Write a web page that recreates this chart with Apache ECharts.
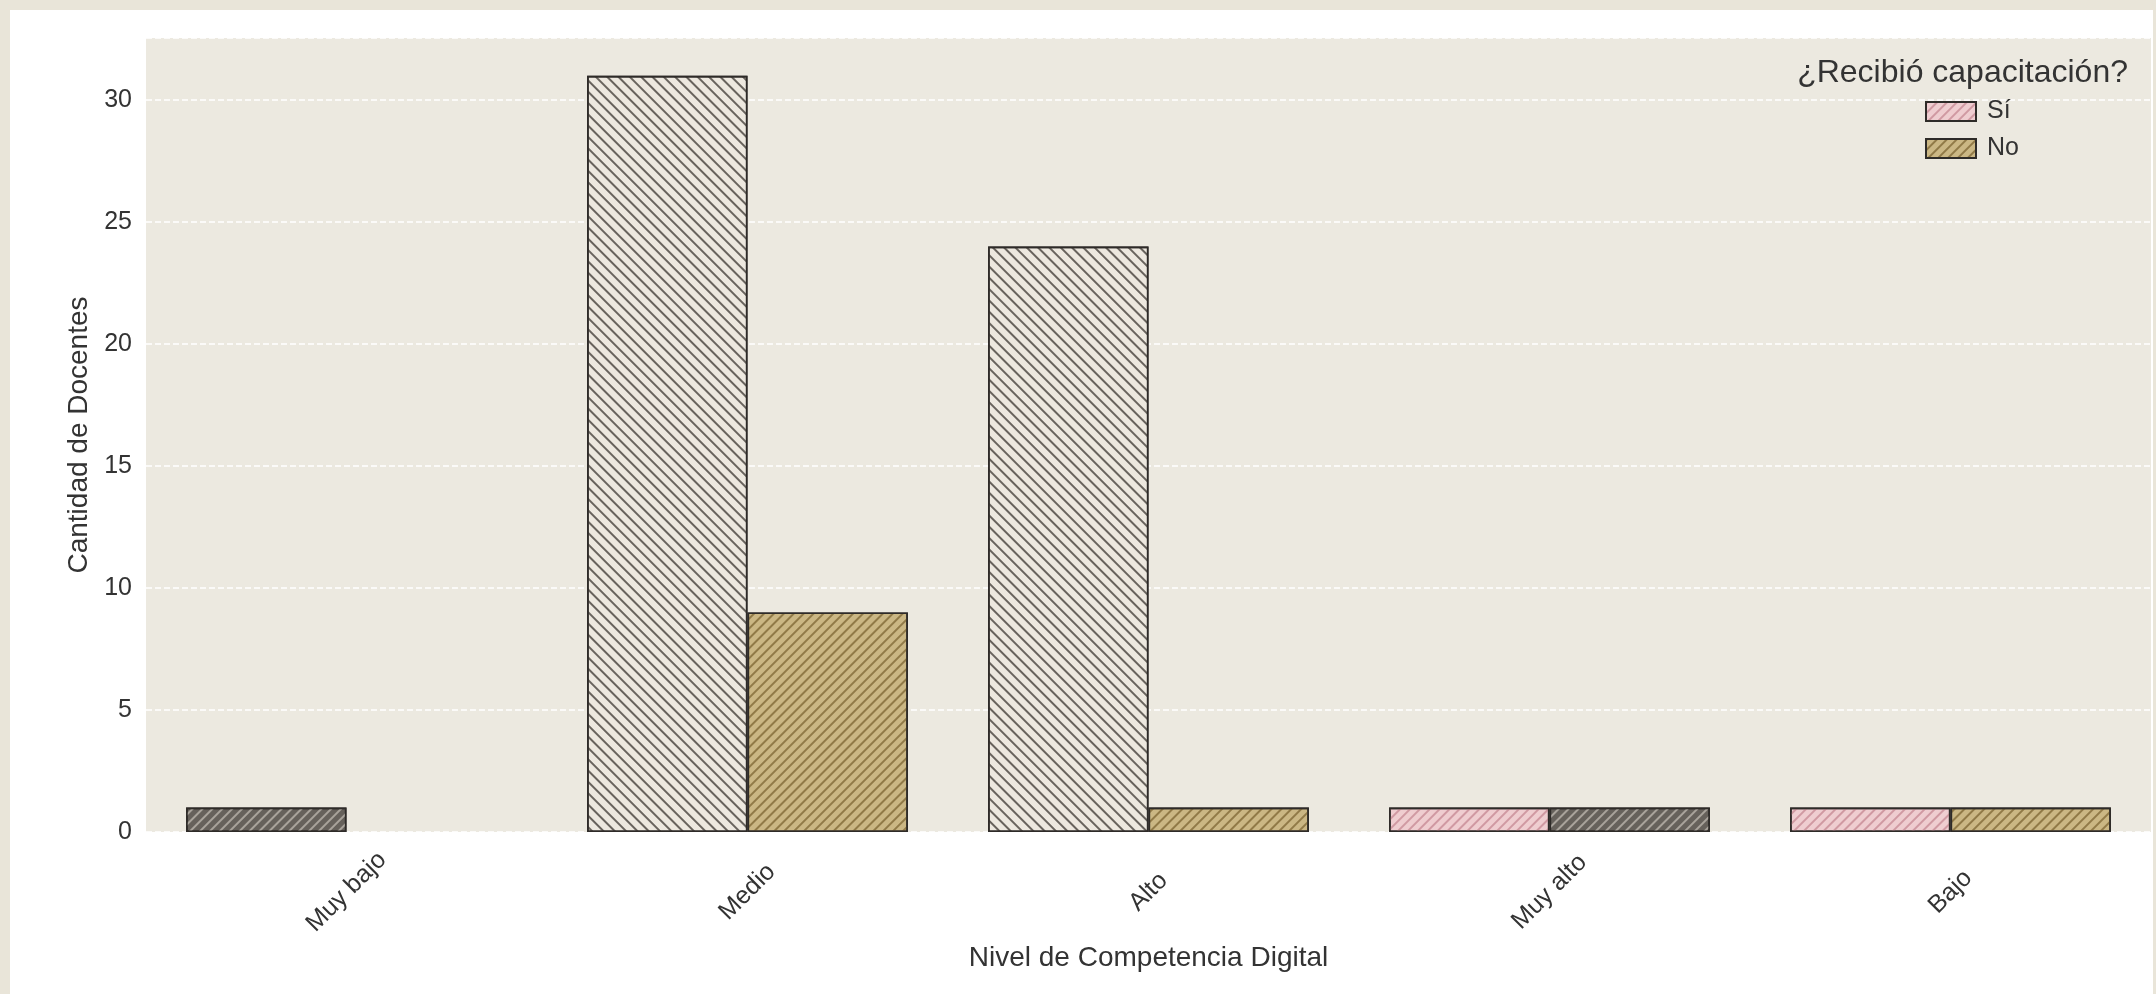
<!DOCTYPE html>
<html><head><meta charset="utf-8">
<script src="https://cdn.jsdelivr.net/npm/echarts@6/dist/echarts.min.js"></script>
<style>
html,body{margin:0;padding:0;width:2156px;height:994px;background:#e9e5d9;overflow:hidden}
#card{position:absolute;left:10px;top:10px;width:2143px;height:984px;background:#ffffff}
#chart{width:2143px;height:984px}
</style></head>
<body><div id="card"><div id="chart"></div></div>
<script>
const categories = ['Muy bajo', 'Medio', 'Alto', 'Muy alto', 'Bajo'];
const siValues = [1, 31, 24, 1, 1];
const noValues = [0, 9, 1, 1, 1];
const yTicks = [0, 5, 10, 15, 20, 25, 30];
const seriesNames = ['Sí', 'No'];
const legendTitle = '¿Recibió capacitación?';
const xTitle = 'Nivel de Competencia Digital';
const yTitle = 'Cantidad de Docentes';

// fill styles per bar (matching the reference's per-bar patterns)
const styles = {
  dark:  {color:'#66615b', decal:{color:'rgba(235,230,220,0.5)', dashArrayX:[1,0], dashArrayY:[2,5], symbolSize:1, rotation:-Math.PI/4}},
  light: {color:'#ede8df', decal:{color:'rgba(60,55,50,0.75)', dashArrayX:[1,0], dashArrayY:[2,6], symbolSize:1, rotation:Math.PI/4}},
  tan:   {color:'#cbb784', decal:{color:'rgba(120,95,45,0.7)', dashArrayX:[1,0], dashArrayY:[2,5], symbolSize:1, rotation:-Math.PI/4}},
  pink:  {color:'#efcdd0', decal:{color:'rgba(200,140,150,0.8)', dashArrayX:[1,0], dashArrayY:[2,5], symbolSize:1, rotation:-Math.PI/4}}
};
const siFill = ['dark', 'light', 'light', 'pink', 'pink'];
const noFill = ['dark', 'tan', 'tan', 'dark', 'tan'];

function build(vals, fills){
  return vals.map((v,i)=>({
    value: v === 0 ? null : v,
    itemStyle: Object.assign({borderColor:'#2e2b28', borderWidth:1.6}, styles[fills[i]])
  }));
}

const chart = echarts.init(document.getElementById('chart'));
const font = 'Liberation Sans, Arial, sans-serif';
chart.setOption({
  animation:false,
  backgroundColor:'#ffffff',
  textStyle:{fontFamily:font},
  title:{text:legendTitle, right:20, top:42, textStyle:{fontSize:32, fontWeight:'normal', color:'#333', fontFamily:font}},
  legend:{
    orient:'vertical', left:1910, top:84, itemWidth:50, itemHeight:19, itemGap:12, icon:'rect',
    textStyle:{fontSize:25, color:'#333', fontFamily:font, padding:[0,0,0,6]},
    data: seriesNames
  },
  grid:{left:136, right:2, top:28, bottom:162, show:true, backgroundColor:'#ece9e0', borderWidth:0},
  xAxis:{
    type:'category', data:categories,
    axisLine:{show:false}, axisTick:{show:false},
    axisLabel:{rotate:45, fontSize:25, color:'#333', margin:60, align:'center', verticalAlign:'middle', fontFamily:font},
    name:xTitle, nameLocation:'middle', nameGap:112,
    nameTextStyle:{fontSize:28, color:'#333', fontFamily:font}
  },
  yAxis:{
    type:'value', min:0, max:32.55, interval:5,
    axisLine:{show:false}, axisTick:{show:false},
    axisLabel:{fontSize:25, color:'#333', margin:14, showMaxLabel:false, fontFamily:font,
      formatter:v => yTicks.includes(v) ? String(v) : ''},
    splitLine:{show:true, lineStyle:{color:'#ffffff', type:'dashed', width:1.5}},
    name:yTitle, nameLocation:'middle', nameGap:52,
    nameTextStyle:{fontSize:28, color:'#333', fontFamily:font}
  },
  series:[
    {name:seriesNames[0], type:'bar', barGap:'0%', barCategoryGap:'20%',
     itemStyle:Object.assign({borderColor:'#2e2b28', borderWidth:1.6}, styles.pink),
     data:build(siValues, siFill)},
    {name:seriesNames[1], type:'bar', barGap:'0%', barCategoryGap:'20%',
     itemStyle:Object.assign({borderColor:'#2e2b28', borderWidth:1.6}, styles.tan),
     data:build(noValues, noFill)}
  ]
});
</script></body></html>
